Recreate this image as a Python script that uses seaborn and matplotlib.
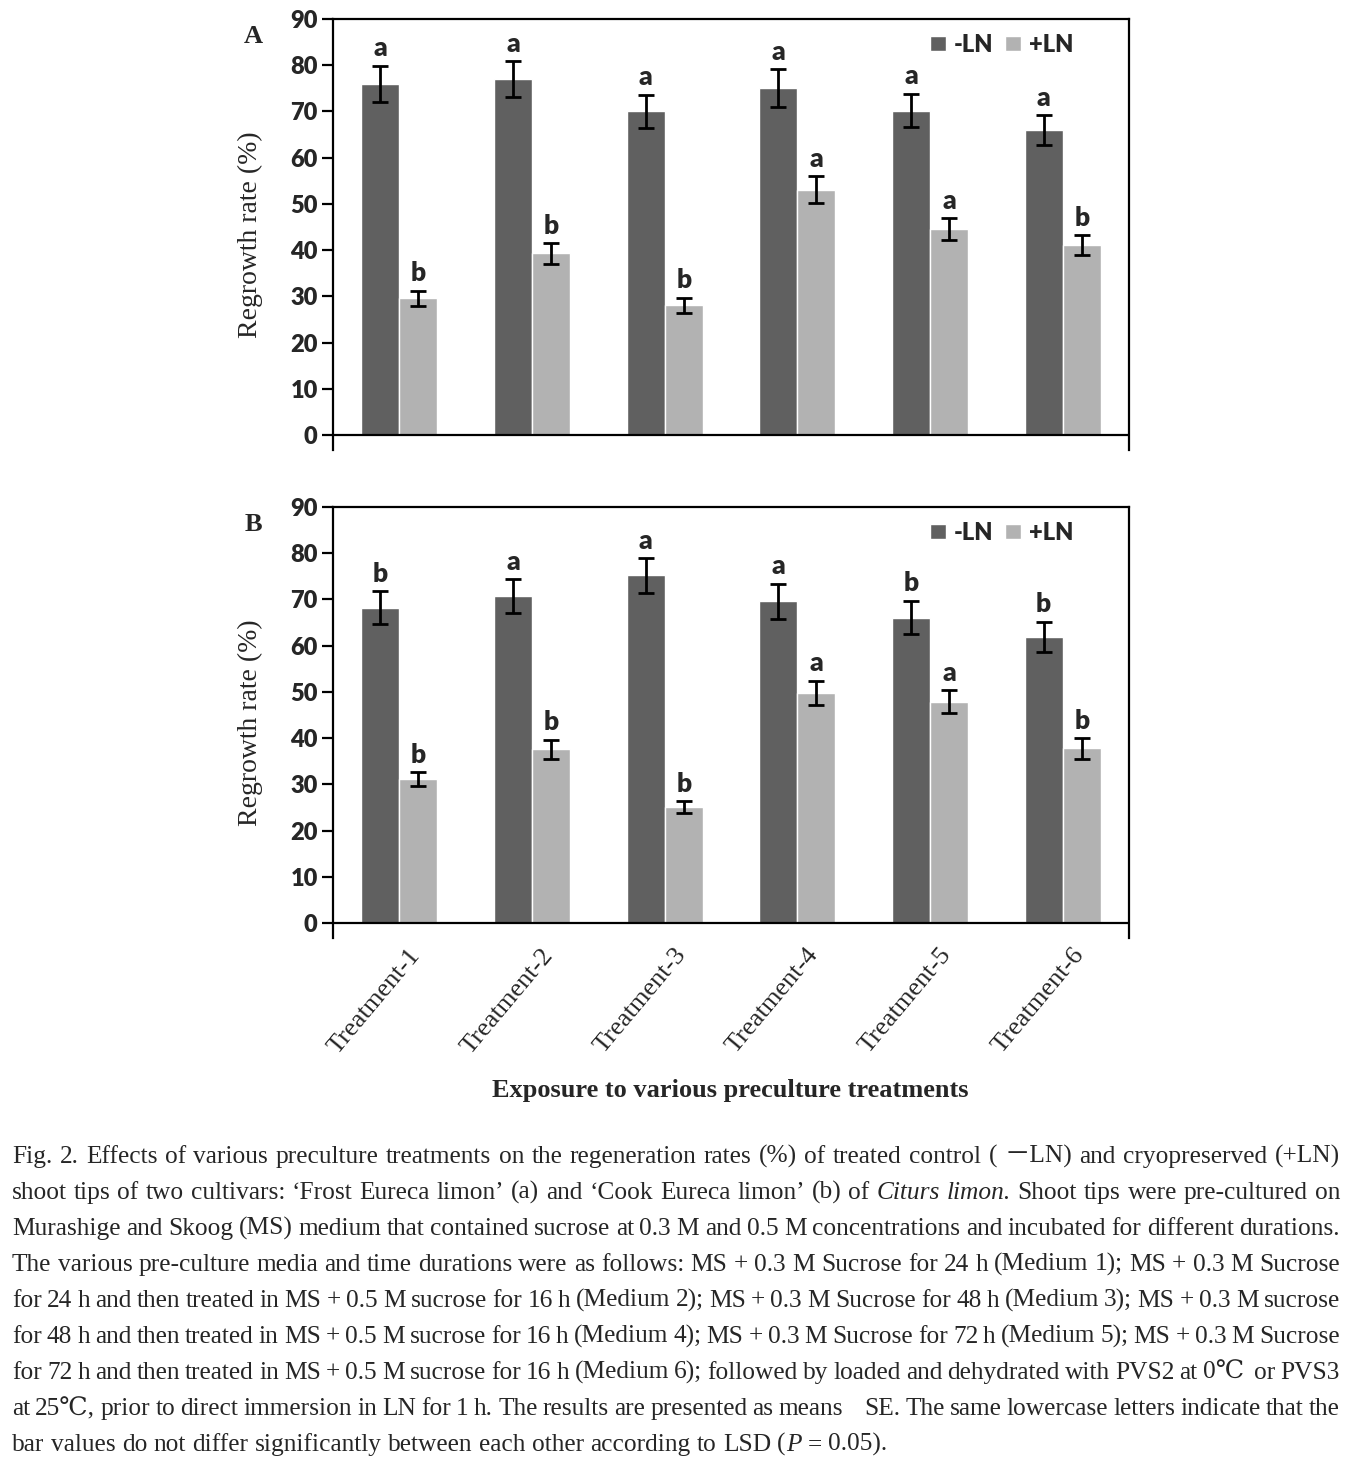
import matplotlib
matplotlib.use("Agg")
import matplotlib.pyplot as plt
from matplotlib.patches import Patch
from matplotlib.transforms import ScaledTranslation
import pandas as pd
import seaborn as sns

treatments = ["Treatment-1", "Treatment-2", "Treatment-3", "Treatment-4", "Treatment-5", "Treatment-6"]
groups = ["-LN", "+LN"]

# panel A: 'Frost Eureca limon'
a_minus = [76.0, 77.0, 70.0, 75.0, 70.2, 66.0]
a_plus = [29.6, 39.3, 28.1, 53.1, 44.6, 41.1]
a_minus_se = [3.9, 3.9, 3.6, 4.1, 3.6, 3.2]
a_plus_se = [1.6, 2.2, 1.6, 2.9, 2.3, 2.1]
a_minus_sig = ["a", "a", "a", "a", "a", "a"]
a_plus_sig = ["b", "b", "b", "a", "a", "b"]

# panel B: 'Cook Eureca limon'
b_minus = [68.2, 70.7, 75.2, 69.6, 66.1, 61.9]
b_plus = [31.1, 37.6, 25.1, 49.8, 47.9, 37.8]
b_minus_se = [3.6, 3.7, 3.7, 3.8, 3.6, 3.3]
b_plus_se = [1.5, 2.1, 1.3, 2.6, 2.5, 2.2]
b_minus_sig = ["b", "a", "a", "a", "b", "b"]
b_plus_sig = ["b", "b", "b", "a", "a", "b"]

caption_lines = [
    "Fig. 2. Effects of various preculture treatments on the regeneration rates (%) of treated control ( －LN) and cryopreserved (+LN)",
    "shoot tips of two cultivars: ‘Frost Eureca limon’ (a) and ‘Cook Eureca limon’ (b) of *Citurs limon.* Shoot tips were pre-cultured on",
    "Murashige and Skoog (MS) medium that contained sucrose at 0.3 M and 0.5 M concentrations and incubated for different durations.",
    "The various pre-culture media and time durations were as follows: MS + 0.3 M Sucrose for 24 h (Medium 1); MS + 0.3 M Sucrose",
    "for 24 h and then treated in MS + 0.5 M sucrose for 16 h (Medium 2); MS + 0.3 M Sucrose for 48 h (Medium 3); MS + 0.3 M sucrose",
    "for 48 h and then treated in MS + 0.5 M sucrose for 16 h (Medium 4); MS + 0.3 M Sucrose for 72 h (Medium 5); MS + 0.3 M Sucrose",
    "for 72 h and then treated in MS + 0.5 M sucrose for 16 h (Medium 6); followed by loaded and dehydrated with PVS2 at 0℃  or PVS3",
    "at 25℃, prior to direct immersion in LN for 1 h. The results are presented as means    SE. The same lowercase letters indicate that the",
    "bar values do not differ significantly between each other according to LSD (*P* = 0.05).",
]

DARK = "#606060"
LIGHT = "#b2b2b2"
SANS = "Lato"
SERIF = ["Liberation Serif", "DejaVu Serif", "Noto Sans CJK JP"]

sns.set_style("ticks")

fig = plt.figure(figsize=(13.61, 14.61), dpi=100)
W, H = 1361, 1461


def px_axes(left, top, right, bottom):
    return fig.add_axes([left / W, 1 - bottom / H, (right - left) / W, (bottom - top) / H])


def draw_panel(ax, minus, plus, minus_se, plus_se, minus_sig, plus_sig, tag, show_x):
    df = pd.DataFrame({
        "treatment": treatments * 2,
        "group": [groups[0]] * len(treatments) + [groups[1]] * len(treatments),
        "rate": minus + plus,
    })
    sns.barplot(data=df, x="treatment", y="rate", hue="group", palette=[DARK, LIGHT],
                width=0.575, errorbar=None, saturation=1, legend=False, ax=ax)

    for cont, se, sig in zip(ax.containers, [minus_se, plus_se], [minus_sig, plus_sig]):
        xs = [b.get_x() + b.get_width() / 2 for b in cont]
        ys = [b.get_height() for b in cont]
        ax.errorbar(xs, ys, yerr=se, fmt="none", ecolor="black", elinewidth=2,
                    capsize=6, capthick=2, zorder=3)
        for x, y, e, s in zip(xs, ys, se, sig):
            ax.annotate(s, (x, y + e), xytext=(0, 4), textcoords="offset points",
                        ha="center", va="bottom", fontsize=19, fontweight="heavy",
                        family=SANS)

    ax.set_ylim(-3.2, 90)
    ax.set_xlim(-0.5, len(treatments) - 0.5)
    ax.set_yticks(range(0, 91, 10))
    ax.axhline(0, color="black", lw=1.6, zorder=4)
    for side in ["left", "right", "top"]:
        ax.spines[side].set_color("black")
        ax.spines[side].set_linewidth(1.6)
    ax.spines["bottom"].set_visible(False)
    ax.tick_params(axis="y", length=8, width=1.6, color="black", pad=3)
    for lab in ax.get_yticklabels():
        lab.set_fontfamily(SANS)
        lab.set_fontweight("heavy")
        lab.set_fontsize(17)

    ax.set_xlabel("")
    ax.set_ylabel("Regrowth rate (%)", family=SERIF, fontsize=20)
    ax.yaxis.set_label_coords(-0.088, 0.5)

    if show_x:
        ax.tick_params(axis="x", bottom=False, pad=1)
        ax.set_xticks(range(len(treatments)))
        ax.set_xticklabels(treatments, rotation=50, ha="right", rotation_mode="anchor",
                           family=SERIF, fontsize=19)
        shift = ScaledTranslation(9 / 100, 0, fig.dpi_scale_trans)
        for lab in ax.get_xticklabels():
            lab.set_transform(lab.get_transform() + shift)
    else:
        ax.tick_params(axis="x", bottom=False, labelbottom=False)

    handles = [Patch(facecolor=DARK, label=groups[0]), Patch(facecolor=LIGHT, label=groups[1])]
    ax.legend(handles=handles, loc="center right", bbox_to_anchor=(0.93, 0.94), ncol=2,
              frameon=False, handlelength=0.65, handleheight=0.65, handletextpad=0.35,
              columnspacing=0.5, borderpad=0, borderaxespad=0,
              prop=dict(family=SANS, weight="heavy", size=17))

    ax.text(-0.1, 0.96, tag, transform=ax.transAxes, family=SERIF, fontsize=19,
            fontweight="bold", ha="center", va="center")


ax_a = px_axes(333, 19, 1129, 450)
ax_b = px_axes(333, 507, 1129, 938)
draw_panel(ax_a, a_minus, a_plus, a_minus_se, a_plus_se, a_minus_sig, a_plus_sig, "A", False)
draw_panel(ax_b, b_minus, b_plus, b_minus_se, b_plus_se, b_minus_sig, b_plus_sig, "B", True)

fig.text(730 / W, 1 - 1090 / H, "Exposure to various preculture treatments", family=SERIF,
         fontsize=19, fontweight="bold", ha="center", va="center")

# justified caption
renderer = fig.canvas.get_renderer()


def parse(line):
    words = []
    italic = False
    for tok in line.split(" "):
        segs = []
        for j, part in enumerate(tok.split("*")):
            if j > 0:
                italic = not italic
            if part:
                segs.append((part, italic))
        words.append(segs)
    return words


def text_width(s, italic, size):
    t = fig.text(0, 0, s, family=SERIF, style="italic" if italic else "normal", fontsize=size)
    w = t.get_window_extent(renderer).width
    t.remove()
    return w


def word_widths(words, size):
    return [sum(text_width(s, it, size) for s, it in w) for w in words]


left_px, right_px = 12, 1340
target = right_px - left_px
parsed = [parse(l) for l in caption_lines]
base = 16
space_base = text_width("a a", False, base) - text_width("aa", False, base)
scale = min(target / (sum(word_widths(p, base)) + space_base * 0.8 * (len(p) - 1)) for p in parsed)
size = base * scale
space_w = text_width("a a", False, size) - text_width("aa", False, size)

for i, words in enumerate(parsed):
    widths = word_widths(words, size)
    if i < len(parsed) - 1:
        gap = (target - sum(widths)) / (len(words) - 1)
    else:
        gap = space_w
    x = left_px
    baseline = 1163 + 36 * i
    for w, ww in zip(words, widths):
        cx = x
        for s, it in w:
            fig.text(cx / W, 1 - baseline / H, s, family=SERIF, fontsize=size,
                     style="italic" if it else "normal", ha="left", va="baseline")
            cx += text_width(s, it, size)
        x += ww + gap

fig.savefig("out.png", dpi=100)
